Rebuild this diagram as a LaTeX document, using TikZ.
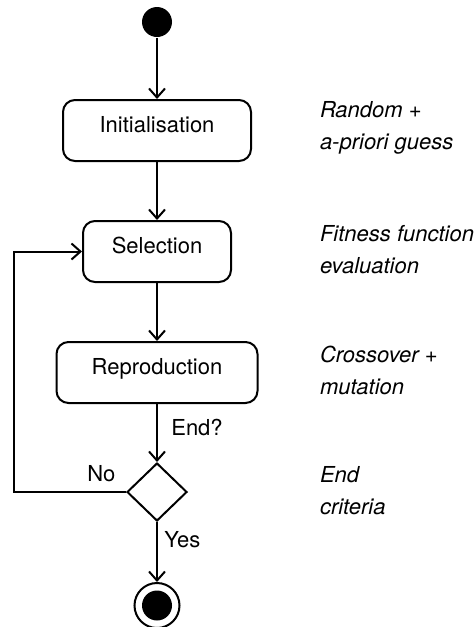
\documentclass[tikz,border=0pt]{standalone}
\usepackage{fontspec}
\setmainfont{TeX Gyre Heros}
\usetikzlibrary{positioning,shapes.geometric,arrows.meta}
\tikzset{%
  >={Straight Barb[length=9pt,width=16pt]},
  % Specifications for style of nodes:
        base/.style = {draw=black, line width=2pt},
    activity/.style = {base, rectangle, rounded corners=12pt,
                       minimum height=61pt, text height=15pt, text depth=10.5pt},
   initstate/.style = {circle, fill=black, minimum size=30pt, inner sep=0pt},
  finalstate/.style = {base, circle, fill=white, minimum size=45pt, inner sep=0pt,
                       path picture={\fill[black] (path picture bounding box.center)
                                     circle (15pt);}},
    decision/.style = {base, diamond, minimum width=60pt, minimum height=58pt,
                       inner sep=0pt},
        note/.style = {anchor=west, inner sep=0pt, align=left, font=\fontsize{22}{32}\selectfont\itshape},
}

\begin{document}
\begin{tikzpicture}[node distance=58pt, line width=2pt,
    font=\fontsize{22}{32}\selectfont]
  \useasboundingbox (0,0) rectangle (475pt,-627pt);
  % Specification of nodes (position, etc.)
  \node (start)          [initstate] at (157pt,-22pt)                   {};
  \node (initialisation) [activity, minimum width=188pt, below=61pt of start]
                                                               {Initialisation};
  \node (selection)      [activity, minimum width=148pt, below=of initialisation]
                                                                    {Selection};
  \node (reproduction)   [activity, minimum width=201pt, below=of selection]
                                                                 {Reproduction};
  \node (endcheck)       [decision, below=of reproduction]                     {};
  \node (stop)           [finalstate, below=60pt of endcheck]                  {};
  % notes on the right
  \node (noteInit)  [note] at (319pt,-128pt) {Random +\\a-priori guess};
  \node (noteSel)   [note] at (319pt,-250pt) {Fitness function\\evaluation};
  \node (noteRepro) [note] at (319pt,-370pt) {Crossover +\\mutation};
  \node (noteEnd)   [note] at (319pt,-491pt) {End\\criteria};
  \coordinate (loopx) at (14pt,0pt);
  % Specification of lines between nodes specified above
  \draw[->]          (start) -- (initialisation);
  \draw[->] (initialisation) -- (selection);
  \draw[->]      (selection) -- (reproduction);
  \draw[->]   (reproduction) -- node[right=10pt, pos=0.4] {End?} (endcheck);
  \draw[->]       (endcheck) -- node[right=3pt, pos=0.3] {Yes} (stop);
  \draw[->]  (endcheck.west) -- node[above=6pt, pos=0.22] {No}
                                (endcheck.west -| loopx) |- (selection.west);
\end{tikzpicture}
\end{document}
